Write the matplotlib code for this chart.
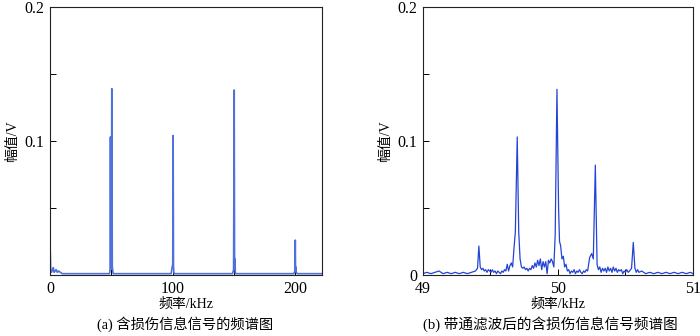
import matplotlib.pyplot as plt
from matplotlib.ticker import MultipleLocator

plt.rcParams['font.family'] = ['Liberation Serif', 'Noto Sans CJK SC']
plt.rcParams['axes.edgecolor'] = '#222222'
plt.rcParams['axes.unicode_minus'] = False

# (a) full spectrum, kHz / V
freq_a = [0, 0.6, 1.2, 2.0, 2.7, 3.4, 4.2, 5.0, 6.0, 7.0, 8.5, 10, 30,
          48.5, 49.0, 49.3, 49.6, 50.0, 50.4, 50.8, 51.5, 70,
          98.8, 99.6, 100.1, 100.4, 100.7, 101.0, 101.5, 130,
          148.8, 149.7, 150.2, 150.5, 150.8, 151.1, 151.5, 180,
          198.8, 199.7, 200.0, 200.2, 200.4, 200.8, 201.5, 222]
amp_a = [0.026, 0.003, 0.002, 0.004, 0.0055, 0.002, 0.003, 0.004, 0.002, 0.003, 0.002, 0.001, 0.001,
         0.001, 0.004, 0.103, 0.006, 0.005, 0.139, 0.006, 0.001, 0.001,
         0.001, 0.006, 0.008, 0.104, 0.006, 0.002, 0.001, 0.001,
         0.001, 0.004, 0.138, 0.007, 0.012, 0.002, 0.001, 0.001,
         0.001, 0.003, 0.026, 0.004, 0.006, 0.002, 0.001, 0.001]

# (b) band-pass filtered spectrum around 50 kHz
freq_b = [49.00, 49.03, 49.06, 49.09, 49.12, 49.15, 49.18, 49.21, 49.24, 49.27, 49.30, 49.33,
          49.36, 49.39, 49.405, 49.415, 49.425, 49.435, 49.445, 49.455, 49.465, 49.475, 49.485,
          49.495, 49.505, 49.515, 49.525, 49.535, 49.545, 49.555, 49.565, 49.575, 49.585, 49.595,
          49.605, 49.615, 49.625, 49.635, 49.645, 49.655, 49.665, 49.675, 49.685, 49.699, 49.71,
          49.72, 49.73, 49.74, 49.75, 49.76, 49.77, 49.78, 49.79, 49.80, 49.81, 49.82, 49.83,
          49.84, 49.85, 49.86, 49.87, 49.88, 49.89, 49.90, 49.91, 49.92, 49.93, 49.94, 49.95,
          49.96, 49.97, 49.98, 49.993, 50.005, 50.012, 50.02, 50.03, 50.04, 50.05, 50.06, 50.07,
          50.08, 50.09, 50.10, 50.11, 50.12, 50.13, 50.14, 50.15, 50.16, 50.17, 50.18, 50.19,
          50.20, 50.21, 50.22, 50.235, 50.25, 50.262, 50.277, 50.29, 50.30, 50.31, 50.32, 50.33,
          50.34, 50.35, 50.36, 50.37, 50.38, 50.39, 50.40, 50.41, 50.42, 50.43, 50.44, 50.45,
          50.46, 50.47, 50.48, 50.49, 50.50, 50.51, 50.52, 50.53, 50.545, 50.558, 50.57, 50.58,
          50.59, 50.60, 50.62, 50.65, 50.68, 50.71, 50.74, 50.77, 50.80, 50.83, 50.86, 50.89,
          50.92, 50.95, 50.98, 51.00]
amp_b = [0.001, 0.002, 0.001, 0.002, 0.003, 0.001, 0.002, 0.001, 0.002, 0.001, 0.002, 0.001,
         0.002, 0.003, 0.005, 0.0216, 0.006, 0.004, 0.005, 0.003, 0.004, 0.002, 0.004,
         0.003, 0.002, 0.004, 0.002, 0.003, 0.001, 0.003, 0.002, 0.001, 0.003, 0.002,
         0.004, 0.003, 0.008, 0.003, 0.007, 0.009, 0.006, 0.020, 0.032, 0.103, 0.032,
         0.012, 0.006, 0.005, 0.006, 0.004, 0.005, 0.003, 0.005, 0.004, 0.007, 0.005, 0.009,
         0.006, 0.011, 0.007, 0.012, 0.004, 0.010, 0.006, 0.010, 0.001, 0.011, 0.009, 0.012,
         0.010, 0.006, 0.030, 0.1385, 0.050, 0.025, 0.022, 0.012, 0.014, 0.006, 0.008, 0.003,
         0.004, 0.001, 0.003, 0.002, 0.004, 0.001, 0.003, 0.002, 0.004, 0.002, 0.001, 0.003,
         0.002, 0.004, 0.003, 0.013, 0.016, 0.012, 0.082, 0.008, 0.004, 0.006, 0.002, 0.005,
         0.003, 0.005, 0.002, 0.006, 0.003, 0.005, 0.002, 0.006, 0.003, 0.005, 0.002, 0.004,
         0.003, 0.004, 0.001, 0.003, 0.002, 0.004, 0.002, 0.003, 0.005, 0.0243, 0.005, 0.002,
         0.004, 0.002, 0.003, 0.001, 0.002, 0.001, 0.002, 0.001, 0.002, 0.001, 0.002, 0.001,
         0.002, 0.001, 0.002, 0.001]

fig = plt.figure(figsize=(7, 3.36), dpi=100)
ax1 = fig.add_axes([0.0714, 0.1815, 0.389, 0.798])
ax2 = fig.add_axes([0.604, 0.1815, 0.386, 0.798])

ax1.plot(freq_a, amp_a, color='#5070dc', lw=1.2)
ax2.plot(freq_b, amp_b, color='#2444d4', lw=0.9)

ax1.set_xlim(0, 222)
ax1.set_ylim(0, 0.2)
ax1.set_xticks([0, 100, 200])
ax1.xaxis.set_minor_locator(MultipleLocator(50))
ax1.set_yticks([0.1, 0.2])
ax1.set_yticklabels(['0.1', '0.2'])
ax1.yaxis.set_minor_locator(MultipleLocator(0.05))

ax2.set_xlim(49, 51)
ax2.set_ylim(0, 0.2)
ax2.set_xticks([49, 50, 51])
ax2.xaxis.set_minor_locator(MultipleLocator(0.5))
ax2.set_yticks([0, 0.1, 0.2])
ax2.set_yticklabels(['0', '0.1', '0.2'])
ax2.yaxis.set_minor_locator(MultipleLocator(0.05))

for ax in (ax1, ax2):
    ax.tick_params(which='both', direction='in', top=False, right=False, labelsize=11.5, pad=4)
    ax.tick_params(which='major', length=4, width=0.7)
    ax.tick_params(which='minor', length=4, width=0.7)
    for s in ax.spines.values():
        s.set_linewidth(0.8)
    ax.set_xlabel('频率/kHz', fontsize=10, labelpad=1)
    ax.set_ylabel('幅值/V', fontsize=10, labelpad=4)

fig.text(0.264, 0.012, '(a) 含损伤信息信号的频谱图', ha='center', va='bottom', fontsize=10.3)
fig.text(0.786, 0.012, '(b) 带通滤波后的含损伤信息信号频谱图', ha='center', va='bottom', fontsize=10.5)

fig.savefig('out.png', dpi=100, facecolor='white')
